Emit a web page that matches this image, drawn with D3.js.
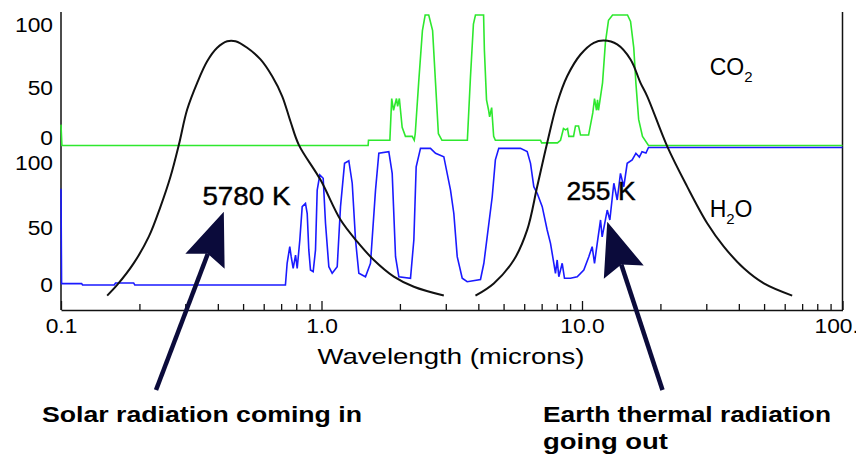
<!DOCTYPE html>
<html>
<head>
<meta charset="utf-8">
<script src="https://cdn.jsdelivr.net/npm/d3@7"></script>
<style>
  body { margin: 0; background: #fff; }
  svg { display: block; font-family: "Liberation Sans", Arial, sans-serif; }
</style>
</head>
<body>
<div id="viz"></div>
<script>
const WIDTH = 856, HEIGHT = 458;

// [wavelength in microns, absorption in percent]
const co2Absorption = [
  [0.1, 16], [0.1008, 0], [1.51, 0], [1.515, 4], [1.83, 4], [1.86, 36], [1.89, 27], [1.94, 36],
  [1.96, 30], [1.99, 36], [2.04, 14], [2.1, 7], [2.23, 7], [2.27, 4], [2.29, 9], [2.36, 48],
  [2.44, 88], [2.5, 100], [2.58, 100], [2.67, 88], [2.74, 48], [2.81, 9], [2.9, 4], [3.63, 4],
  [3.73, 52], [3.83, 93], [3.9, 100], [4.19, 100], [4.22, 73], [4.3, 35], [4.38, 27], [4.42, 22],
  [4.5, 29], [4.58, 7], [4.65, 4], [6.93, 4], [7.0, 2], [8.05, 2], [8.27, 4], [8.49, 13],
  [8.65, 12], [8.8, 13], [8.9, 7], [9.28, 7], [9.44, 15], [9.7, 15], [9.87, 8], [10.6, 8],
  [11.0, 25], [11.17, 36], [11.37, 27], [11.47, 35], [11.57, 27], [11.99, 48], [12.3, 79],
  [12.64, 96], [13.1, 100], [14.95, 100], [15.36, 95], [15.8, 75], [16.1, 48], [16.5, 20],
  [17.07, 7], [18.0, 0], [100, 0]
];

const h2oAbsorption = [
  [0.1, 70], [0.1005, 1], [0.12, 1], [0.121, 0], [0.16, 0], [0.162, 1.5], [0.19, 1.5], [0.192, 0],
  [0.727, 0], [0.738, 15.8], [0.7555, 27.9], [0.765, 20.6], [0.7785, 12.1], [0.795, 21.8],
  [0.8067, 12.1], [0.8256, 32.7], [0.8431, 57], [0.868, 59.4], [0.8813, 52], [0.8938, 25.5],
  [0.9073, 10.9], [0.929, 9.7], [0.9484, 25.5], [0.9627, 69], [0.985, 80], [1.015, 77.6],
  [1.036, 44.9], [1.067, 13.3], [1.099, 8.5], [1.149, 13.3], [1.183, 57], [1.226, 88.5],
  [1.273, 90.4], [1.312, 74], [1.351, 32.7], [1.391, 8.5], [1.475, 6], [1.542, 15.8],
  [1.612, 69], [1.66, 95.8], [1.813, 97], [1.868, 81.2], [1.924, 20.6], [1.981, 6], [2.196, 4.9],
  [2.262, 32.7], [2.309, 86], [2.399, 99.4], [2.62, 99.4], [2.74, 95.8], [2.948, 93.3],
  [3.128, 69], [3.221, 52], [3.319, 20.6], [3.469, 4.9], [3.625, 2.4], [4.077, 4], [4.2, 15.8],
  [4.325, 35], [4.521, 64], [4.65, 91], [4.792, 99.4], [5.805, 99.4], [6.16, 97], [6.344, 88.5],
  [6.531, 71.5], [6.73, 66.7], [7.036, 57], [7.35, 40], [7.57, 30.3], [7.796, 15.8], [7.91, 8.5],
  [8.03, 18.2], [8.147, 6], [8.395, 15.8], [8.566, 4.9], [9.03, 4.9], [9.585, 6], [10.16, 10.9],
  [10.62, 20.6], [10.94, 27.9], [11.17, 15.8], [11.44, 30.3], [11.78, 47.3], [11.95, 35],
  [12.5, 54.5], [12.79, 47.3], [13.25, 74], [13.65, 61.8], [14.05, 81.2], [14.47, 71.5],
  [14.91, 88.5], [15.58, 91], [16.1, 95.8], [16.6, 93], [17.0, 97], [17.6, 96], [18.0, 100],
  [100, 100]
];

// [wavelength in microns, blackbody intensity in percent of peak]
const solarCurve = [
  [0.1504, 1.7], [0.1643, 5.8], [0.1903, 14.2], [0.2173, 24.4], [0.241, 36], [0.2633, 47.6],
  [0.2834, 59.8], [0.305, 73.4], [0.3333, 83.7], [0.364, 92], [0.3977, 97.2], [0.4345, 99.7],
  [0.4676, 99.7], [0.5185, 97.2], [0.5833, 92.7], [0.6467, 86.2], [0.7066, 78.5], [0.7603, 68.8],
  [0.8183, 59.8], [0.991, 46.3], [1.183, 30.9], [1.371, 22.5], [1.588, 15.4], [1.895, 9],
  [2.262, 5.1], [2.948, 1.7]
];

const earthCurve = [
  [3.9, 1.7], [4.585, 6.4], [5.473, 15.4], [6.16, 27], [6.73, 43.7], [7.35, 60.5], [8.03, 75.9],
  [8.77, 86.2], [9.87, 94.6], [11.1, 99.1], [12.13, 100], [13.65, 98.5], [15.36, 92.7],
  [16.77, 83.7], [17.8, 78.5], [21.24, 59.2], [25.34, 43.7], [30.24, 29.6], [35.03, 20.6],
  [41.8, 12.2], [49.9, 6.4], [64.1, 1.7]
];

const majorTicks = [0.1, 1, 10, 100];
const majorTickLabels = ["0.1", "1.0", "10.0", "100.0"];
const percentTicks = [0, 50, 100];

const temperatureLabels = ["5780 K", "255 K"];
const bottomTexts = ["Solar radiation coming in", "Earth thermal radiation", "going out"];

// ---------------------------------------------------------------
const svg = d3.select("#viz").append("svg")
  .attr("width", WIDTH)
  .attr("height", HEIGHT)
  .attr("viewBox", `0 0 ${WIDTH} ${HEIGHT}`);

svg.append("rect").attr("width", WIDTH).attr("height", HEIGHT).attr("fill", "#fff");

const plotTop = 12, plotBottom = 310;

const x = d3.scaleLog().domain([0.1, 100]).range([61, 842.5]);
const yCo2 = d3.scaleLinear().domain([0, 100]).range([145.5, 15]);
const yH2o = d3.scaleLinear().domain([0, 100]).range([285, 147.5]);
const yPlanck = d3.scaleLinear().domain([0, 100]).range([300, 40.5]);

// tick labels of the two panels are not spaced evenly in the original
const co2LabelY = d3.scaleLinear().domain([0, 50, 100]).range([138.5, 88.5, 25.5]);
const h2oLabelY = d3.scaleLinear().domain([0, 50, 100]).range([285, 228, 163]);

// stretch text horizontally, the original glyphs are wide
function stretch(sel, k) {
  sel.each(function() {
    const w = this.getComputedTextLength();
    d3.select(this).attr("textLength", w * k).attr("lengthAdjust", "spacingAndGlyphs");
  });
}
function fitWidth(sel, w) {
  sel.attr("textLength", w).attr("lengthAdjust", "spacingAndGlyphs");
}

// frame
svg.append("g")
  .selectAll("line")
  .data([0.1, 100])
  .join("line")
  .attr("x1", d => x(d)).attr("x2", d => x(d))
  .attr("y1", plotTop).attr("y2", plotBottom)
  .attr("stroke", "#111").attr("stroke-width", 1.5);

// x axis: minor then major ticks, pointing up
const minorTicks = x.ticks().filter(d => !majorTicks.some(m => Math.abs(m - d) < 1e-9));
const minorAxis = svg.append("g")
  .attr("transform", `translate(0,${plotBottom})`)
  .call(d3.axisBottom(x).tickValues(minorTicks).tickSizeInner(-6).tickSizeOuter(0).tickFormat(""));
minorAxis.select(".domain").remove();
minorAxis.selectAll("line").attr("stroke", "#111").attr("stroke-width", 1.3);

const majorAxis = svg.append("g")
  .attr("transform", `translate(0,${plotBottom})`)
  .call(d3.axisBottom(x)
    .tickValues(majorTicks)
    .tickFormat((d, i) => majorTickLabels[i])
    .tickSizeInner(-9).tickSizeOuter(0).tickPadding(9));
majorAxis.select(".domain").attr("stroke", "#111").attr("stroke-width", 1.5);
majorAxis.selectAll("line").attr("stroke", "#111").attr("stroke-width", 1.3);
majorAxis.selectAll("text").attr("font-size", 20).attr("fill", "#000")
  .attr("font-family", "'Liberation Sans', Arial, sans-serif")
  .call(stretch, 1.14);

// y labels, both panels
[[co2LabelY], [h2oLabelY]].forEach(([sc]) => {
  const g = svg.append("g")
    .attr("transform", `translate(${x(0.1)},0)`)
    .call(d3.axisLeft(sc).tickValues(percentTicks).tickSize(0).tickPadding(8));
  g.select(".domain").remove();
  g.selectAll("text").attr("font-size", 20).attr("fill", "#000")
    .attr("font-family", "'Liberation Sans', Arial, sans-serif")
    .call(stretch, 1.14);
});

// absorption lines
const line = yScale => d3.line().x(d => x(d[0])).y(d => yScale(d[1]));

svg.append("path")
  .datum(co2Absorption)
  .attr("d", line(yCo2))
  .attr("fill", "none").attr("stroke", "#2ee82e").attr("stroke-width", 1.6);

svg.append("path")
  .datum(h2oAbsorption)
  .attr("d", line(yH2o))
  .attr("fill", "none").attr("stroke", "#1a1aff").attr("stroke-width", 1.6);

// blackbody curves
const planck = d3.line().x(d => x(d[0])).y(d => yPlanck(d[1])).curve(d3.curveCatmullRom);
svg.selectAll("path.planck")
  .data([solarCurve, earthCurve])
  .join("path")
  .attr("class", "planck")
  .attr("d", planck)
  .attr("fill", "none").attr("stroke", "#111").attr("stroke-width", 2);

// gas labels
const co2Label = svg.append("text")
  .attr("x", x(30.9)).attr("y", yCo2(54))
  .attr("font-size", 23).attr("fill", "#000");
co2Label.append("tspan").text("CO");
co2Label.append("tspan").attr("font-size", 15).attr("dy", 7).text("2");

const h2oLabel = svg.append("text")
  .attr("x", x(30.9)).attr("y", yH2o(49.5))
  .attr("font-size", 23).attr("fill", "#000");
h2oLabel.append("tspan").text("H");
h2oLabel.append("tspan").attr("font-size", 15).attr("dy", 7).text("2");
h2oLabel.append("tspan").attr("dy", -7).text("O");

// temperature labels
const tempPos = [[0.515, 58.2, 88], [11.83, 61.8, 69]];
svg.selectAll("text.temp")
  .data(temperatureLabels)
  .join("text")
  .attr("class", "temp")
  .attr("x", (d, i) => x(tempPos[i][0]))
  .attr("y", (d, i) => yH2o(tempPos[i][1]))
  .attr("text-anchor", "middle")
  .attr("font-size", 25)
  .attr("fill", "#000")
  .attr("stroke", "#000")
  .attr("stroke-width", 0.4)
  .text(d => d)
  .each(function(d, i) { fitWidth(d3.select(this), tempPos[i][2]); });

// arrows: tip and tail in data coordinates (wavelength, H2O percent)
const arrows = [
  { tip: [0.4217, 53.3], tail: [0.2316, -76.4] },
  { tip: [12.5, 46], tail: [20.37, -76.4] }
];
const arrowColor = "#0b0b3b";
arrows.forEach(a => {
  const tx = x(a.tip[0]), ty = yH2o(a.tip[1]);
  const sx = x(a.tail[0]), sy = yH2o(a.tail[1]);
  const len = Math.hypot(sx - tx, sy - ty);
  const ux = (sx - tx) / len, uy = (sy - ty) / len;
  const nx = -uy, ny = ux;
  const L = 53, W = 21, notch = 8;
  svg.append("line")
    .attr("x1", tx + ux * (L - notch)).attr("y1", ty + uy * (L - notch))
    .attr("x2", sx).attr("y2", sy)
    .attr("stroke", arrowColor).attr("stroke-width", 4.5);
  const pts = [
    [tx, ty],
    [tx + ux * L + nx * W, ty + uy * L + ny * W],
    [tx + ux * (L - notch), ty + uy * (L - notch)],
    [tx + ux * L - nx * W, ty + uy * L - ny * W]
  ];
  svg.append("polygon")
    .attr("points", pts.map(p => p.join(",")).join(" "))
    .attr("fill", arrowColor);
});

// axis title
svg.append("text")
  .attr("x", 451).attr("y", 364)
  .attr("text-anchor", "middle")
  .attr("font-size", 22)
  .attr("fill", "#000")
  .text("Wavelength (microns)")
  .call(fitWidth, 267);

// captions under the chart
const captionPos = [[42, 422, 320], [543, 422, 288], [543, 449, 125]];
svg.selectAll("text.caption")
  .data(bottomTexts)
  .join("text")
  .attr("class", "caption")
  .attr("x", (d, i) => captionPos[i][0])
  .attr("y", (d, i) => captionPos[i][1])
  .attr("font-size", 22)
  .attr("font-weight", "bold")
  .attr("fill", "#000")
  .text(d => d)
  .each(function(d, i) { fitWidth(d3.select(this), captionPos[i][2]); });
</script>
</body>
</html>
